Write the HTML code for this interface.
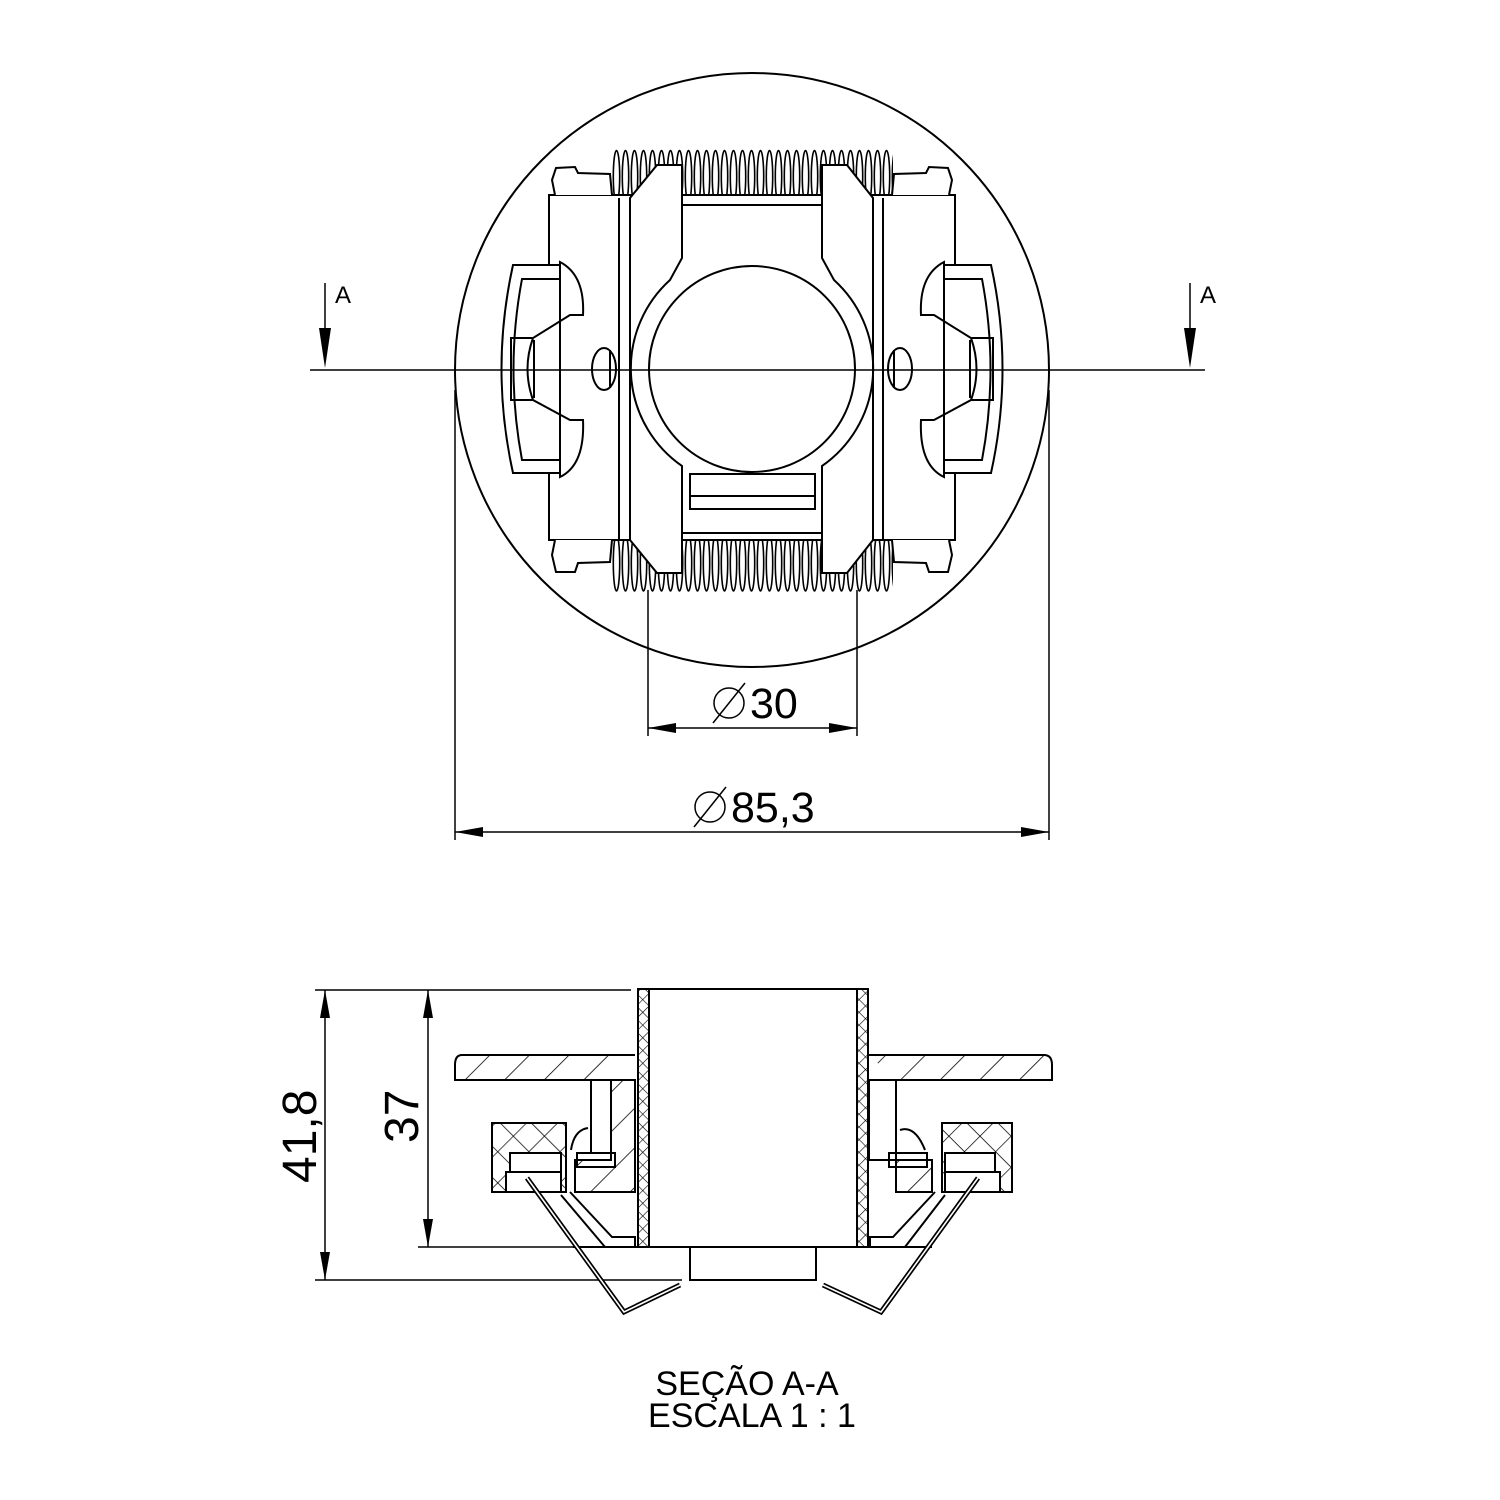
<!DOCTYPE html>
<html><head><meta charset="utf-8"><style>
html,body{margin:0;padding:0;background:#fff}
svg{display:block}
text{font-family:"Liberation Sans",Arial,sans-serif;fill:#000}
</style></head><body>
<svg width="1500" height="1500" viewBox="0 0 1500 1500" xmlns="http://www.w3.org/2000/svg">
<defs>
<pattern id="coilT" x="612" y="148" width="9" height="57" patternUnits="userSpaceOnUse">
<ellipse cx="4.5" cy="28.5" rx="3.2" ry="26" fill="none" stroke="#000" stroke-width="1.6"/>
</pattern>
<pattern id="coilB" x="612" y="533" width="9" height="60" patternUnits="userSpaceOnUse">
<ellipse cx="4.5" cy="30" rx="3.2" ry="28" fill="none" stroke="#000" stroke-width="1.6"/>
</pattern>
<pattern id="hatch" width="28" height="28" patternUnits="userSpaceOnUse" patternTransform="rotate(45)">
<line x1="0" y1="0" x2="0" y2="28" stroke="#000" stroke-width="1.6"/>
</pattern>
<pattern id="cross" width="22" height="22" patternUnits="userSpaceOnUse" patternTransform="rotate(45)">
<line x1="0" y1="0" x2="0" y2="22" stroke="#000" stroke-width="1.4"/>
<line x1="0" y1="0" x2="22" y2="0" stroke="#000" stroke-width="1.4"/>
</pattern>
<pattern id="crossS" width="9" height="9" patternUnits="userSpaceOnUse" patternTransform="rotate(45)">
<line x1="0" y1="0" x2="0" y2="9" stroke="#000" stroke-width="1.2"/>
<line x1="0" y1="0" x2="9" y2="0" stroke="#000" stroke-width="1.2"/>
</pattern>
</defs>
<g fill="none" stroke="#000" stroke-width="2">
<circle cx="752" cy="370" r="297"/>
<rect x="612" y="148" width="281" height="57" fill="url(#coilT)" stroke="none"/>
<rect x="612" y="533" width="281" height="60" fill="url(#coilB)" stroke="none"/>
<path d="M549 195 H955 V540 H549 Z" fill="#fff"/>
<path d="M555 195 L552 180 L556 168 L575 167 L578 173 L610 174 L612 195" fill="#fff"/>
<path d="M949 195 L952 180 L948 168 L929 167 L926 173 L894 174 L892 195" fill="#fff"/>
<path d="M555 540 L552 555 L556 572 L575 572 L578 563 L610 562 L612 540" fill="#fff"/>
<path d="M949 540 L952 555 L948 572 L929 572 L926 563 L894 562 L892 540" fill="#fff"/>
<line x1="619" y1="198" x2="619" y2="540"/><line x1="630" y1="198" x2="630" y2="540"/>
<line x1="873" y1="198" x2="873" y2="540"/><line x1="883" y1="198" x2="883" y2="540"/>
<path d="M630 198 L657 165 H682 V205 H822 V165 H847 L873 198 V540 L847 573 H822 V533 H682 V573 H657 L630 540 Z" fill="#fff"/>
<path d="M682 205 V258 L670 280 A119 119 0 0 0 682 466 V533"/>
<path d="M822 205 V258 L834 280 A119 119 0 0 1 822 466 V533"/>
<circle cx="752" cy="369" r="103"/>
<rect x="690" y="474" width="125" height="35"/><line x1="690" y1="496" x2="815" y2="496"/>
<ellipse cx="604" cy="369" rx="12" ry="21"/><line x1="610" y1="350" x2="610" y2="388"/>
<ellipse cx="900" cy="369" rx="12" ry="21"/><line x1="894" y1="350" x2="894" y2="388"/>
<path d="M560 265 H513 Q490 369 513 473 H560" fill="#fff"/>
<path d="M560 279 H522 Q505 369 522 460 H560"/>
<path d="M560 262 Q585 275 583 315 H570 L533 338 Q522 369 533 400 L570 420 H583 Q585 465 560 477 Z" fill="#fff"/>
<path d="M533 338 L511 338 V400 L533 400"/>
<line x1="534" y1="340" x2="534" y2="398"/>
<path d="M944 265 H991 Q1014 369 991 473 H944" fill="#fff"/>
<path d="M944 279 H982 Q999 369 982 460 H944"/>
<path d="M944 262 Q919 275 921 315 H934 L971 338 Q982 369 971 400 L934 420 H921 Q919 465 944 477 Z" fill="#fff"/>
<path d="M971 338 L993 338 V400 L971 400"/>
<line x1="970" y1="340" x2="970" y2="398"/>
</g>
<g stroke="#000" stroke-width="1.5" fill="none">
<line x1="310" y1="370" x2="1205" y2="370"/>
<line x1="325" y1="283" x2="325" y2="340"/>
<line x1="1190" y1="283" x2="1190" y2="340"/>
<line x1="648" y1="590" x2="648" y2="736"/><line x1="857" y1="590" x2="857" y2="736"/>
<line x1="648" y1="728" x2="857" y2="728"/>
<line x1="455" y1="390" x2="455" y2="840"/><line x1="1049" y1="390" x2="1049" y2="840"/>
<line x1="455" y1="832" x2="1049" y2="832"/>
<circle cx="729" cy="703" r="15"/><line x1="713" y1="723" x2="745" y2="683"/>
<circle cx="710" cy="807" r="15"/><line x1="694" y1="827" x2="726" y2="787"/>
</g>
<g fill="#000">
<polygon points="319,328 331,328 325,368"/>
<polygon points="1184,328 1196,328 1190,368"/>
<polygon points="648,728 676,723 676,733"/><polygon points="857,728 829,723 829,733"/>
<polygon points="455,832 483,827 483,837"/><polygon points="1049,832 1021,827 1021,837"/>
<polygon points="325,990 320,1018 330,1018"/><polygon points="325,1280 320,1252 330,1252"/>
<polygon points="428,990 423,1018 433,1018"/><polygon points="428,1247 423,1219 433,1219"/>
</g>
<text x="335" y="303" font-size="24">A</text>
<text x="1200" y="303" font-size="24">A</text>
<text x="750" y="718" font-size="43">30</text>
<text x="731" y="822" font-size="43">85,3</text>
<g stroke="#000" stroke-width="1.5" fill="none">
<line x1="315" y1="990" x2="631" y2="990"/>
<line x1="315" y1="1280" x2="682" y2="1280"/>
<line x1="418" y1="1247" x2="589" y2="1247"/>
<line x1="325" y1="990" x2="325" y2="1280"/>
<line x1="428" y1="990" x2="428" y2="1247"/>
</g>
<g stroke="#000" stroke-width="2" fill="none">
<path d="M635 1055 H462 Q455 1055 455 1065 V1080 H591" fill="url(#hatch)"/>
<path d="M869 1055 H1044 Q1052 1055 1052 1065 V1080 H896" fill="url(#hatch)"/>
<path d="M611 1080 H635 V1192 H575 V1160 L611 1160 Z" fill="url(#hatch)"/>
<path d="M869 1080 H896 V1192 H932 V1160 H869 Z" fill="url(#hatch)"/>
<rect x="591" y="1080" width="20" height="73" fill="#fff"/>
<rect x="869" y="1080" width="27" height="80" fill="#fff"/>
<rect x="638" y="989" width="11" height="258" fill="url(#crossS)"/>
<rect x="857" y="989" width="11" height="258" fill="url(#crossS)"/>
<line x1="638" y1="989" x2="868" y2="989"/>
<line x1="573" y1="1247" x2="932" y2="1247"/>
<rect x="492" y="1123" width="74" height="69" fill="url(#cross)"/>
<rect x="942" y="1123" width="70" height="69" fill="url(#cross)"/>
<rect x="510" y="1153" width="51" height="19" fill="#fff"/>
<rect x="506" y="1172" width="55" height="20" fill="#fff"/>
<rect x="945" y="1153" width="50" height="19" fill="#fff"/>
<rect x="945" y="1172" width="55" height="20" fill="#fff"/>
<rect x="577" y="1153" width="38" height="14"/>
<rect x="889" y="1153" width="38" height="14"/>
<path d="M571 1150 Q574 1130 588 1128"/>
<path d="M900 1130 Q915 1125 925 1150"/>
<path d="M570 1192 L612 1237 H635 V1247"/>
<path d="M935 1192 L893 1237 H870 V1247"/>
<path d="M561 1195 L605 1247"/><path d="M945 1195 L905 1247"/>
<rect x="690" y="1247" width="126" height="33"/>
<path d="M527 1178 L624 1312 L680 1285" stroke-width="5"/>
<path d="M527 1178 L624 1312 L680 1285" stroke="#fff" stroke-width="1.6"/>
<path d="M978 1178 L881 1312 L823 1285" stroke-width="5"/>
<path d="M978 1178 L881 1312 L823 1285" stroke="#fff" stroke-width="1.6"/>
</g>
<text font-size="48" transform="translate(316 1183) rotate(-90)">41,8</text>
<text font-size="48" transform="translate(418 1143) rotate(-90)">37</text>
<text x="747" y="1395" font-size="34" text-anchor="middle">SEÇÃO A-A</text>
<text x="752" y="1427" font-size="34" text-anchor="middle">ESCALA 1 : 1</text>
</svg>
</body></html>
